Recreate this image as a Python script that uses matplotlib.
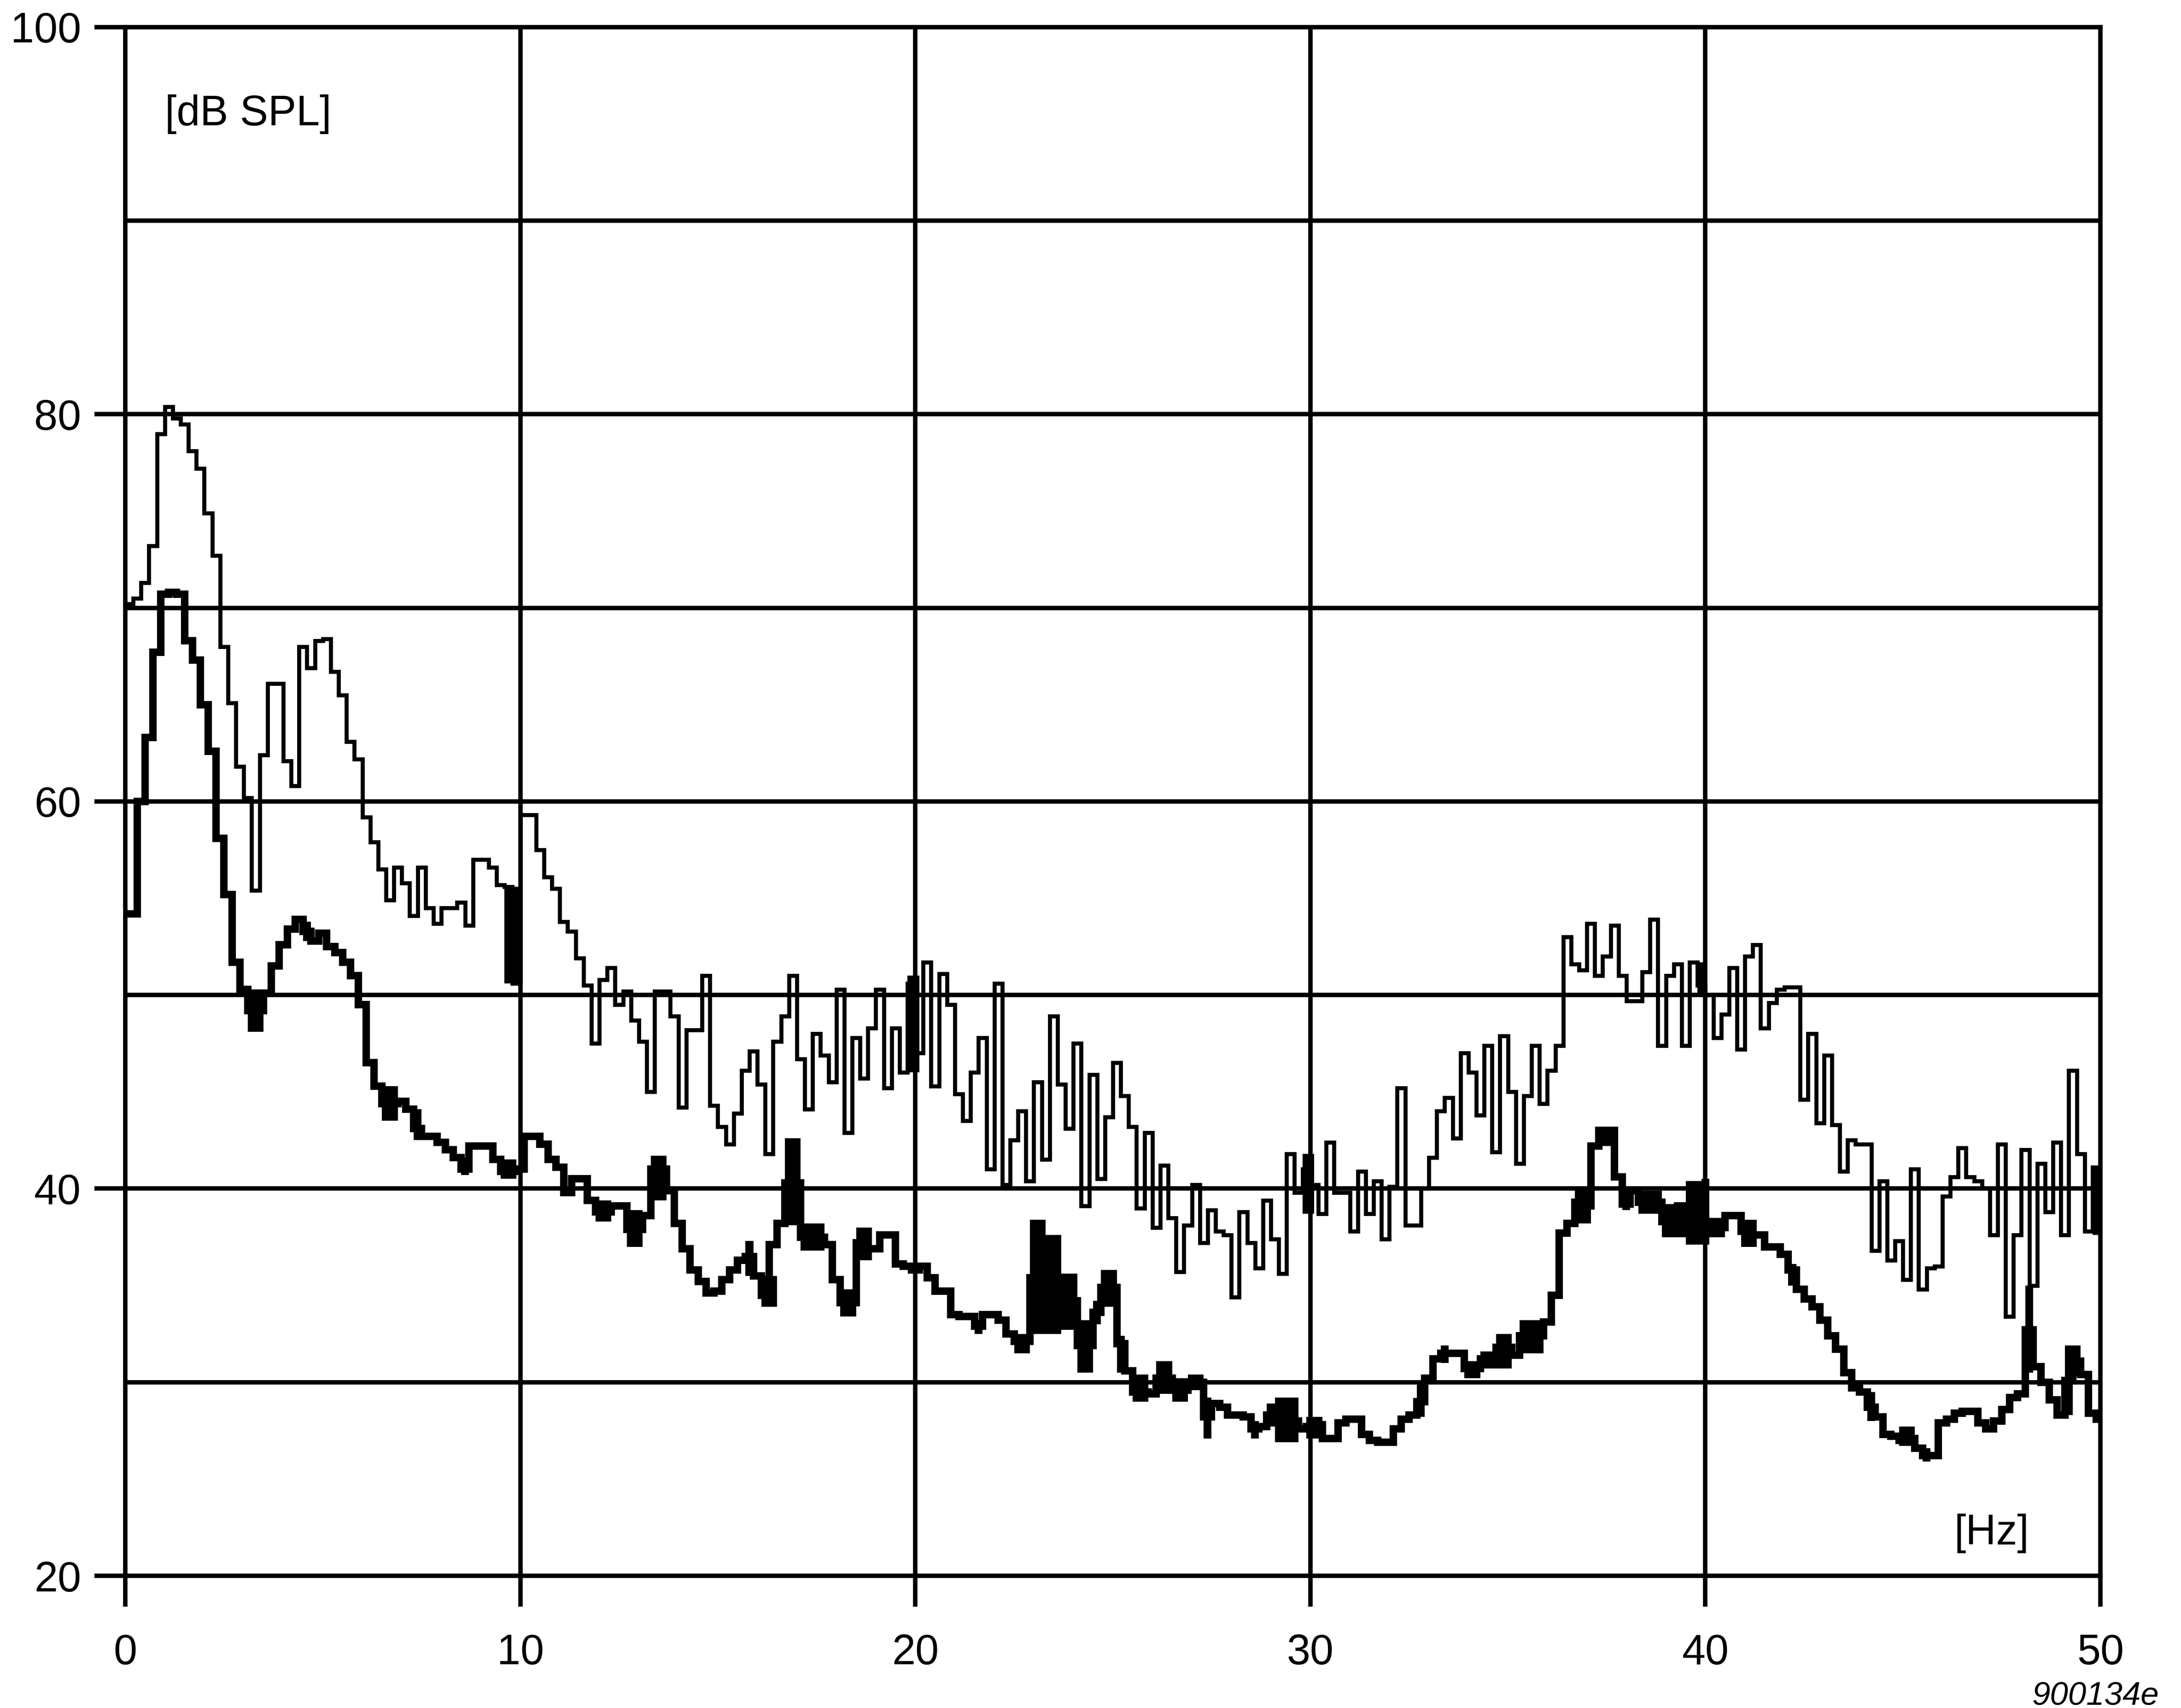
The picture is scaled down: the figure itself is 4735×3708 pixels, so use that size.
import numpy as np
import matplotlib.pyplot as plt

plt.rcParams['font.family'] = ['Liberation Sans', 'DejaVu Sans']

# Spectrum, 0.2 Hz bins from 0 to 50 Hz
BIN_HZ = 0.2

# thin trace (upper spectrum), one value per bin starting at 0 Hz
upper_db = [
    70.2, 70.5, 71.3, 73.2, 79.0, 80.4, 79.8, 79.5, 78.1, 77.2,
    74.9, 72.7, 68.0, 65.1, 61.8, 60.2, 55.4, 62.4, 66.1, 66.1,
    62.1, 60.8, 68.0, 66.9, 68.3, 68.4, 66.7, 65.5, 63.1, 62.2,
    59.2, 57.9, 56.5, 54.9, 56.6, 55.8, 54.1, 56.6, 54.5, 53.7,
    54.5, 54.5, 54.8, 53.6, 57.0, 57.0, 56.6, 55.7, 55.6, 50.6,
    59.3, 59.3, 57.5, 56.1, 55.5, 53.8, 53.3, 51.9, 50.5, 47.5,
    50.8, 51.4, 49.5, 50.2, 48.7, 47.6, 45.0, 50.2, 50.2, 48.9,
    44.2, 48.2, 48.2, 51.0, 44.3, 43.2, 42.3, 43.9, 46.1, 47.1,
    45.4, 41.8, 47.6, 48.9, 51.0, 46.7, 44.1, 48.0, 46.9, 45.5,
    50.3, 42.9, 47.8, 45.7, 48.3, 50.3, 45.2, 48.3, 46.0, 50.6,
    47.0, 51.7, 45.3, 51.1, 49.5, 44.9, 43.5, 46.0, 47.8, 41.0,
    50.6, 40.2, 42.5, 44.0, 40.4, 45.5, 41.5, 48.9, 45.4, 43.1,
    47.5, 39.1, 45.9, 40.5, 43.7, 46.5, 44.8, 43.2, 39.0, 42.9,
    38.0, 41.2, 38.5, 35.7, 38.1, 40.2, 37.2, 38.9, 37.8, 37.6,
    34.4, 38.8, 37.2, 35.9, 39.4, 37.4, 35.6, 41.8, 39.8, 41.0,
    40.2, 38.7, 42.4, 39.8, 39.8, 37.8, 40.9, 38.7, 40.4, 37.4,
    40.1, 45.2, 38.1, 38.1, 40.0, 41.6, 44.0, 44.7, 42.6, 47.0,
    46.0, 43.8, 47.4, 41.9, 47.9, 45.0, 41.3, 44.8, 47.4, 44.4,
    46.1, 47.4, 53.0, 51.6, 51.3, 53.7, 51.0, 52.0, 53.6, 51.0,
    49.7, 49.7, 51.2, 53.9, 47.4, 51.0, 51.6, 47.4, 51.7, 50.5,
    50.0, 47.8, 49.0, 51.4, 47.2, 52.0, 52.6, 48.3, 49.6, 50.3,
    50.4, 50.4, 44.6, 48.0, 43.4, 46.9, 43.3, 40.9, 42.5, 42.3,
    42.3, 36.8, 40.4, 36.3, 37.3, 35.3, 41.0, 34.8, 35.9, 36.0,
    39.6, 40.6, 42.1, 40.6, 40.4, 40.0, 37.6, 42.3, 33.4, 37.6,
    42.0, 35.0, 41.3, 38.8, 42.4, 37.6, 46.1, 41.8, 37.8, 41.1,
]

# thick trace (lower spectrum), bins centred on multiples of 0.2 Hz
lower_db = [
    54.2, 54.2, 60.0, 63.3, 67.7, 70.7, 70.8, 70.7, 68.3, 67.3,
    65.0, 62.6, 58.1, 55.2, 51.7, 50.3, 49.2, 49.2, 50.1, 51.5,
    52.6, 53.4, 53.9, 53.3, 52.8, 53.2, 52.5, 52.2, 51.7, 51.0,
    49.5, 46.5, 45.3, 44.4, 44.4, 44.5, 44.1, 43.1, 42.7, 42.7,
    42.4, 42.0, 41.6, 41.0, 42.2, 42.2, 42.2, 41.5, 40.9, 40.9,
    41.0, 42.7, 42.7, 42.3, 41.5, 41.1, 39.8, 40.5, 40.5, 39.4,
    38.8, 38.8, 39.1, 39.1, 37.9, 37.9, 38.6, 41.0, 41.0, 39.9,
    38.2, 36.9, 35.8, 35.2, 34.6, 34.7, 35.3, 35.8, 36.3, 36.5,
    35.5, 34.5, 37.1, 38.2, 40.3, 40.3, 37.5, 37.5, 37.5, 37.1,
    35.3, 34.1, 34.1, 37.2, 36.9, 36.9, 37.6, 37.6, 36.1, 36.0,
    35.8, 36.0, 35.4, 34.7, 34.7, 33.5, 33.4, 33.4, 32.9, 33.5,
    33.5, 33.2, 32.5, 32.1, 32.1, 35.4, 35.4, 35.0, 35.0, 34.2,
    34.2, 31.9, 31.9, 33.6, 34.9, 34.9, 32.0, 30.6, 29.5, 29.5,
    29.4, 30.2, 30.2, 29.6, 29.6, 30.0, 30.0, 28.2, 28.9, 28.7,
    28.3, 28.3, 28.2, 27.6, 27.7, 28.3, 28.0, 28.0, 28.0, 27.6,
    27.7, 27.8, 27.1, 27.1, 27.9, 28.1, 28.1, 27.3, 27.0, 26.9,
    26.9, 27.6, 28.1, 28.3, 29.0, 30.2, 31.2, 31.5, 31.5, 31.5,
    30.7, 30.7, 31.2, 31.2, 31.8, 31.8, 31.4, 32.4, 32.4, 32.4,
    33.1, 34.5, 37.7, 38.2, 39.3, 39.1, 42.2, 43.0, 43.0, 40.6,
    39.2, 39.9, 39.3, 39.3, 39.3, 38.3, 38.3, 39.1, 38.7, 38.7,
    38.3, 38.0, 38.0, 38.6, 38.6, 37.8, 37.6, 37.6, 37.0, 37.0,
    36.6, 35.8, 34.8, 34.3, 33.9, 33.2, 32.4, 31.7, 30.5, 29.7,
    29.5, 28.7, 28.2, 27.3, 27.2, 27.0, 27.1, 26.6, 26.2, 26.2,
    27.9, 28.1, 28.4, 28.5, 28.5, 27.9, 27.6, 28.0, 28.6, 29.2,
    29.4, 32.7, 30.8, 30.0, 29.1, 28.3, 30.1, 31.1, 30.4, 28.4,
    28.1,
]

# stretches where a trace flickers so fast it prints as a solid block
upper_band_from = [9.6, 19.8, 29.8, 39.8, 49.8]
upper_band_to = [10.0, 20.1, 30.1, 40.0, 50.0]
upper_band_min = [50.6, 46.0, 38.7, 50.0, 37.6]
upper_band_max = [55.6, 51.0, 41.8, 51.7, 41.1]

lower_band_from = [3.1, 4.5, 6.5, 7.3, 8.5, 9.5, 11.9, 12.7, 13.3, 15.7,
                   16.1, 16.7, 17.1, 18.1, 18.5, 21.5, 22.5, 22.9, 23.3, 23.7,
                   24.1, 24.5, 24.7, 25.1, 25.5, 26.1, 26.5, 26.9, 27.3, 28.5,
                   28.9, 29.1, 29.9, 32.7, 33.3, 33.9, 34.3, 34.7, 35.3, 36.7,
                   37.3, 37.9, 38.3, 38.9, 39.5, 39.9, 40.1, 40.9, 42.1, 44.1,
                   44.9, 45.5, 48.1, 49.1, 49.3]
lower_band_to = [3.5, 4.7, 6.9, 7.5, 8.7, 9.9, 12.3, 13.1, 13.7, 15.9,
                 16.5, 17.1, 17.7, 18.5, 18.9, 21.7, 22.9, 23.3, 23.7, 24.1,
                 24.5, 24.7, 25.1, 25.3, 25.9, 26.5, 26.9, 27.3, 27.5, 28.7,
                 29.1, 29.7, 30.3, 32.9, 33.5, 34.3, 34.7, 35.1, 35.9, 37.1,
                 37.7, 38.1, 38.9, 39.5, 39.9, 40.1, 40.5, 41.3, 42.3, 44.3,
                 45.3, 45.7, 48.3, 49.3, 49.5]
lower_band_min = [48.1, 52.8, 43.5, 42.5, 40.7, 40.5, 38.3, 37.0, 39.4, 35.5,
                  33.9, 38.1, 36.8, 33.4, 36.3, 32.5, 31.5, 32.5, 32.5, 32.7,
                  30.5, 33.0, 33.9, 30.5, 29.0, 29.4, 29.0, 29.6, 27.1, 27.1,
                  27.7, 26.9, 27.1, 28.2, 31.0, 30.2, 30.7, 30.7, 31.5, 38.2,
                  42.2, 38.9, 38.7, 37.5, 37.1, 37.1, 37.5, 37.0, 35.0, 28.0,
                  26.7, 25.9, 30.5, 28.3, 30.3]
lower_band_max = [50.3, 53.8, 45.3, 44.1, 41.6, 41.5, 39.4, 38.9, 41.7, 37.3,
                  35.5, 42.6, 38.2, 34.8, 38.0, 33.2, 32.5, 38.4, 37.6, 35.6,
                  33.2, 34.2, 35.8, 32.4, 30.4, 31.1, 30.2, 30.4, 29.2, 28.0,
                  28.9, 29.2, 28.2, 29.9, 31.9, 31.1, 31.6, 32.5, 33.2, 40.0,
                  43.2, 39.9, 39.9, 39.2, 40.4, 40.5, 38.5, 38.4, 36.1, 29.5,
                  27.7, 26.6, 35.0, 31.9, 31.9]

x_ticks = [0, 10, 20, 30, 40, 50]
y_ticks = [20, 40, 60, 80, 100]

FRAME_LW = 2.3
THIN_LW = 2.1
THICK_LW = 3.9

upper_edges = np.linspace(0, 50, len(upper_db) + 1)
lower_edges = np.concatenate([[0.0],
                              np.arange(len(lower_db) - 1) * BIN_HZ + BIN_HZ / 2,
                              [50.0]])

fig = plt.figure(figsize=(4735 / 300, 3708 / 300), dpi=300)
ax = fig.add_axes([0.05744, 0.0774, 0.9056, 0.90669])
ax.set_xlim(0, 50)
ax.set_ylim(20, 100)

# grid every 10 in both directions
for y in range(30, 100, 10):
    ax.axhline(y, color='black', lw=FRAME_LW, zorder=1)
for x in range(10, 50, 10):
    ax.axvline(x, color='black', lw=FRAME_LW, zorder=1)

ax.stairs(upper_db, upper_edges, baseline=None, color='black', lw=THIN_LW,
          joinstyle='miter', capstyle='butt', zorder=3)
ax.stairs(lower_db, lower_edges, baseline=None, color='black', lw=THICK_LW,
          joinstyle='miter', capstyle='butt', zorder=3)

for f0, f1, lo, hi in zip(upper_band_from, upper_band_to, upper_band_min, upper_band_max):
    ax.fill_between([f0, f1], lo, hi, color='black', lw=0, zorder=3)
for f0, f1, lo, hi in zip(lower_band_from, lower_band_to, lower_band_min, lower_band_max):
    ax.fill_between([f0, f1], lo, hi, color='black', lw=0, zorder=3)

for s in ax.spines.values():
    s.set_linewidth(FRAME_LW)
ax.set_xticks(x_ticks)
ax.set_yticks(y_ticks)
ax.tick_params(axis='both', direction='out', length=16, width=FRAME_LW,
               labelsize=22, colors='black')
ax.tick_params(axis='x', pad=14)
ax.tick_params(axis='y', pad=7)

ax.text(1.0, 95.5, '[dB SPL]', fontsize=22, ha='left', va='center')
ax.text(48.2, 22.2, '[Hz]', fontsize=22, ha='right', va='center')
fig.text(0.99, 0.0065, '900134e', fontsize=17, style='italic',
         ha='right', va='center')

fig.savefig('out.png', dpi=300)
